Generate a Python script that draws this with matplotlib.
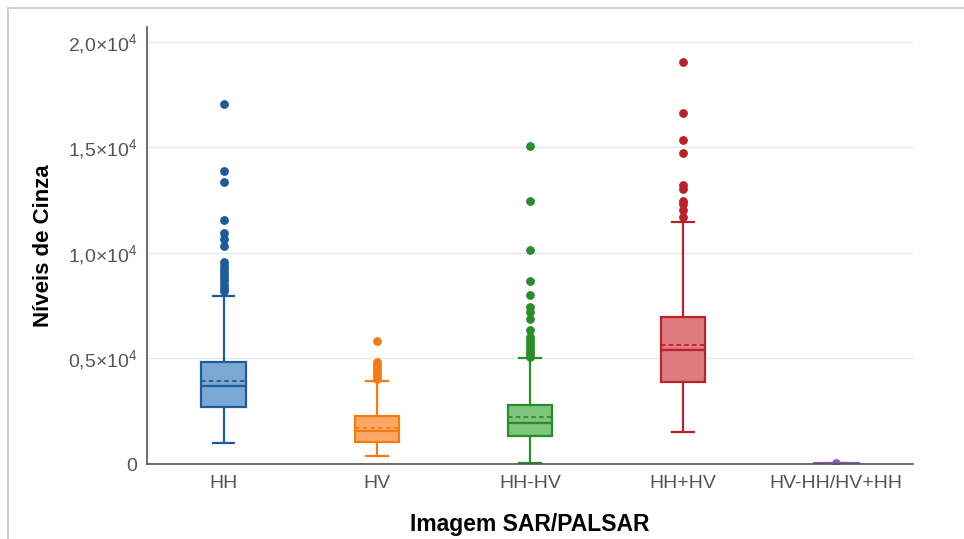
import numpy as np
import matplotlib.pyplot as plt
from matplotlib.lines import Line2D

plt.rcParams['font.family'] = ['Liberation Sans', 'DejaVu Sans']
plt.rcParams['mathtext.fontset'] = 'custom'
plt.rcParams['mathtext.rm'] = 'Liberation Sans'

# categories and box statistics (grey levels)
categories = ["HH", "HV", "HH-HV", "HH+HV", "HV-HH/HV+HH"]
q1 = [2680, 1050, 1320, 3890, -40]
q3 = [4840, 2270, 2820, 6970, 40]
medians = [3700, 1560, 1950, 5390, 0]
means = [3920, 1730, 2240, 5630, 0]
whisk_lo = [1010, 390, 60, 1530, -60]
whisk_hi = [7940, 3940, 5010, 11460, 60]
outliers = [
    [17050, 13900, 13380, 11540, 10940, 10670, 10320, 9570, 9400, 9250,
     9100, 8950, 8800, 8650, 8500, 8350, 8200],
    [5820, 4840, 4700, 4560, 4420, 4300, 4180, 4050],
    [15080, 12470, 10130, 8670, 8020, 7440, 7200, 6890, 6340, 6020, 5880,
     5740, 5600, 5460, 5320, 5180, 5050],
    [19020, 16610, 15350, 14740, 13220, 13030, 12480, 12320, 12040, 11690],
    [60],
]

edge_colors = ['#1f5b98', '#f27c14', '#2a8c2a', '#b5232b', '#8a5cb0']
fill_colors = ['#7aa8d2', '#fba866', '#7ec57e', '#e07a7f', '#b79ad6']

ytick_vals = [0, 5000, 10000, 15000, 20000]
ytick_labels = ["0", r"0,5$\times$10$^{4}$", r"1,0$\times$10$^{4}$",
                r"1,5$\times$10$^{4}$", r"2,0$\times$10$^{4}$"]

fig = plt.figure(figsize=(9.64, 5.39), dpi=100)
ax = fig.add_axes([0.1525, 0.139, 0.7945, 0.811])

stats = []
for i, name in enumerate(categories):
    stats.append(dict(label=name, q1=q1[i], q3=q3[i], med=medians[i],
                      mean=means[i], whislo=whisk_lo[i], whishi=whisk_hi[i],
                      fliers=outliers[i]))

for i, st in enumerate(stats):
    ec = edge_colors[i]
    ax.bxp([st], positions=[i], widths=0.29, patch_artist=True,
           showmeans=True, meanline=True,
           boxprops=dict(facecolor=fill_colors[i], edgecolor=ec, linewidth=1.6),
           medianprops=dict(color=ec, linewidth=1.6),
           meanprops=dict(color=ec, linewidth=1.3, linestyle=(0, (2.5, 1.8))),
           whiskerprops=dict(color=ec, linewidth=1.6),
           capprops=dict(color=ec, linewidth=1.6),
           capwidths=0.14,
           flierprops=dict(marker='o', markerfacecolor=ec, markeredgecolor=ec,
                           markersize=5.3))

ax.set_xlim(-0.5, 4.5)
ax.set_ylim(0, 20700)
ax.set_yticks(ytick_vals)
ax.set_yticklabels(ytick_labels)
ax.set_xticks(range(len(categories)))
ax.set_xticklabels(categories)
ax.tick_params(axis='both', length=0, labelsize=14, labelcolor='#555555')
ax.tick_params(axis='y', pad=7)
ax.tick_params(axis='x', pad=8)

ax.yaxis.grid(True, color='#e6e6e6', linewidth=1)
ax.set_axisbelow(True)
for s in ['top', 'right']:
    ax.spines[s].set_visible(False)
for s in ['left', 'bottom']:
    ax.spines[s].set_color('#555555')
    ax.spines[s].set_linewidth(1.2)

ax.set_xlabel("Imagem SAR/PALSAR", fontsize=16.5, fontweight='bold', labelpad=15)
ax.set_ylabel("Níveis de Cinza", fontsize=16, fontweight='bold', labelpad=10)

# light frame at top and left of the picture
fig.add_artist(Line2D([8 / 964, 1], [1 - 8 / 539, 1 - 8 / 539],
                      color='#c8c8c8', linewidth=1.2))
fig.add_artist(Line2D([8 / 964, 8 / 964], [0, 1 - 8 / 539],
                      color='#c8c8c8', linewidth=1.2))

fig.savefig("out.png", dpi=100)
